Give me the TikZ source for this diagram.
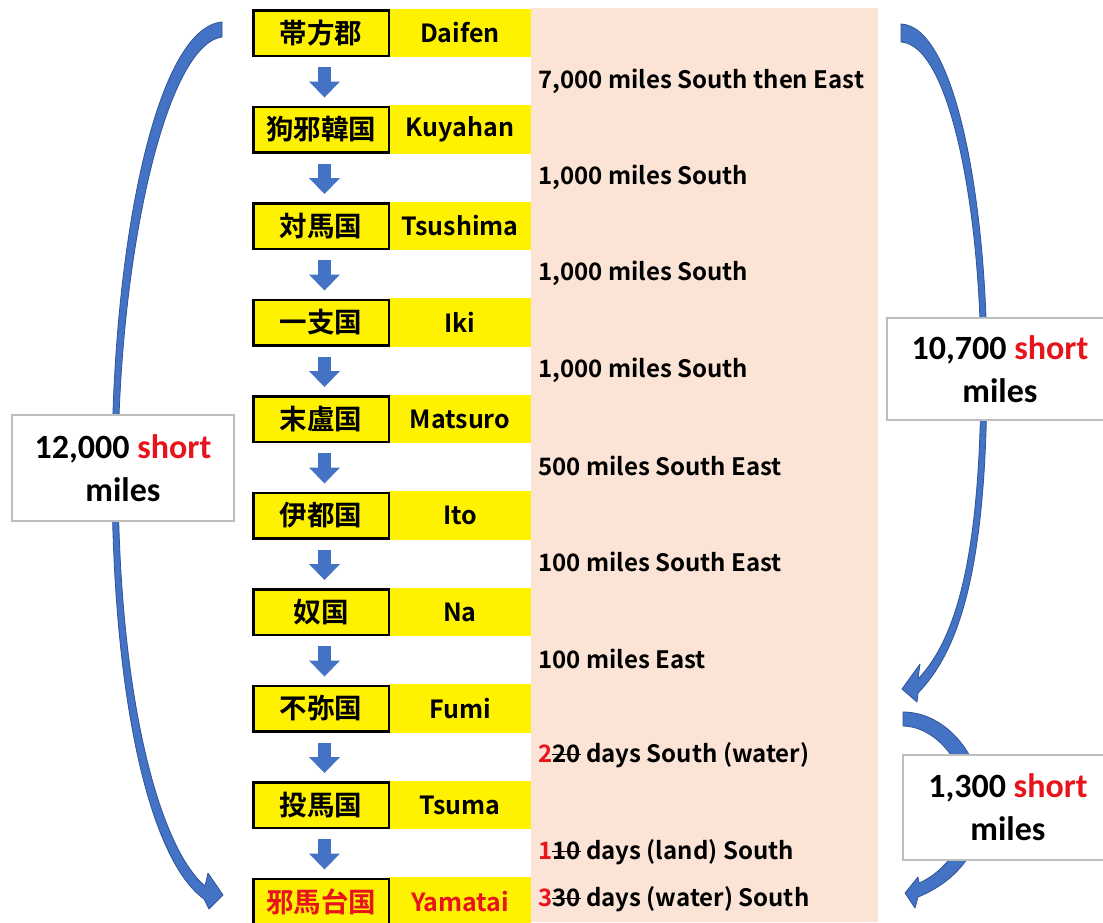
\documentclass[tikz,border=0pt]{standalone}
\usepackage{fontspec}
\usetikzlibrary{arrows.meta}
\newfontfamily\jpf{Noto Sans CJK JP Bold}
\newfontfamily\carl{Carlito}
\definecolor{peach}{RGB}{251,228,214}
\definecolor{ablue}{RGB}{68,114,196}
\definecolor{ablueline}{RGB}{47,85,151}
\definecolor{tred}{RGB}{232,20,28}
\definecolor{boxgray}{RGB}{190,190,190}
\newcommand\stk[1]{\setbox0\hbox{#1}\rlap{\rule[0.3em]{\wd0}{1.4pt}}\box0\relax}
\tikzset{
  jpbox/.style={draw=black, line width=2.5pt, fill=yellow, minimum width=135.5pt, minimum height=45.5pt, inner sep=0pt, font=\jpf\fontsize{27.5}{30}\selectfont},
  enbox/.style={fill=yellow, minimum width=142pt, minimum height=48.5pt, inner sep=0pt, font=\jpf\fontsize{25}{28}\selectfont},
  dist/.style={anchor=west, inner sep=0pt, font=\jpf\fontsize{24}{28}\selectfont},
  sumbox/.style={draw=boxgray, line width=1.5pt, fill=white, align=center, inner sep=0pt, font=\carl\bfseries\fontsize{34}{43}\selectfont},
  downarr/.style={draw=ablue, line width=13pt, -{Triangle[width=31pt,length=16pt,line width=0pt]}},
  bigarrow/.style={fill=ablue, draw=ablueline, line width=0.8pt, line join=round}
}
\begin{document}
\begin{tikzpicture}[x=1pt,y=-1pt]
\useasboundingbox (0,0) rectangle (1103,922);
\fill[white] (0,0) rectangle (1103,922);
% peach column
\fill[peach] (531,8) rectangle (878,922);
% rows
\foreach \i/\jp/\en in {0/帯方郡/Daifen,1/狗邪韓国/Kuyahan,2/対馬国/Tsushima,3/一支国/Iki,4/末盧国/Matsuro,5/伊都国/Ito,6/奴国/Na,7/不弥国/Fumi,8/投馬国/Tsuma}{
  \node[enbox] (en\i) at (460,{33+96.5*\i}) {\en};
  \node[jpbox] (jp\i) at (321,{33+96.5*\i}) {\jp};
}
\node[enbox, text=tred] (en9) at (460,901.5) {Yamatai};
\node[jpbox, text=tred] (jp9) at (321,901.5) {邪馬台国};
% down arrows
\foreach \i in {0,...,8}{
  \pgfmathtruncatemacro\j{\i+1}
  \draw[downarr] ([xshift=3.5pt,yshift=-10pt]jp\i.south) -- ([xshift=3.5pt,yshift=8pt]jp\j.north);
}
% distances
\node[dist] (d0) at (538,81) {7,000 miles South then East};
\node[dist] (d1) at (538,177) {1,000 miles South};
\node[dist] (d2) at (538,273) {1,000 miles South};
\node[dist] (d3) at (538,370) {1,000 miles South};
\node[dist] (d4) at (538,466) {500 miles South East};
\node[dist] (d5) at (538,562) {100 miles South East};
\node[dist] (d6) at (538,659) {100 miles East};
\node[dist] (d7) at (538,755) {\textcolor{tred}{2}\stk{20} days South (water)};
\node[dist] (d8) at (538,852) {\textcolor{tred}{1}\stk{10} days (land) South};
\node[dist] (d9) at (538,899) {\textcolor{tred}{3}\stk{30} days (water) South};
% big curved arrows
\path[bigarrow] (222,22) .. controls (155,28) and (112,250) .. (112,470)
  .. controls (112,700) and (150,860) .. (204,899) -- (209,909) -- (223,895) -- (208,873) -- (205,886)
  .. controls (160,848) and (118,700) .. (118,470)
  .. controls (118,260) and (165,45) .. (222,37) -- cycle;
\path[bigarrow] (901,24) .. controls (955,26) and (987,200) .. (987,370)
  .. controls (987,560) and (962,648) .. (918,693) -- (917,702) -- (902,689) -- (920,664) -- (918,679)
  .. controls (955,640) and (981,560) .. (981,370)
  .. controls (981,210) and (950,45) .. (901,42) -- cycle;
\path[bigarrow] (903,712) .. controls (948,712) and (985,760) .. (983,810)
  .. controls (981,852) and (955,882) .. (918,897) -- (915,908) -- (905,893) -- (918,877) -- (919,883)
  .. controls (945,872) and (967,842) .. (968,810)
  .. controls (969,770) and (940,727) .. (903,726) -- cycle;
% summary boxes
\node[sumbox, minimum width=222pt, minimum height=106pt] (s1) at (123,468) {12,000 \textcolor{tred}{short}\\miles};
\node[sumbox, minimum width=226pt, minimum height=102pt] (s2) at (1000,369) {10,700 \textcolor{tred}{short}\\miles};
\node[sumbox, minimum width=210pt, minimum height=105pt] (s3) at (1008,807.5) {1,300 \textcolor{tred}{short}\\miles};
\end{tikzpicture}
\end{document}
